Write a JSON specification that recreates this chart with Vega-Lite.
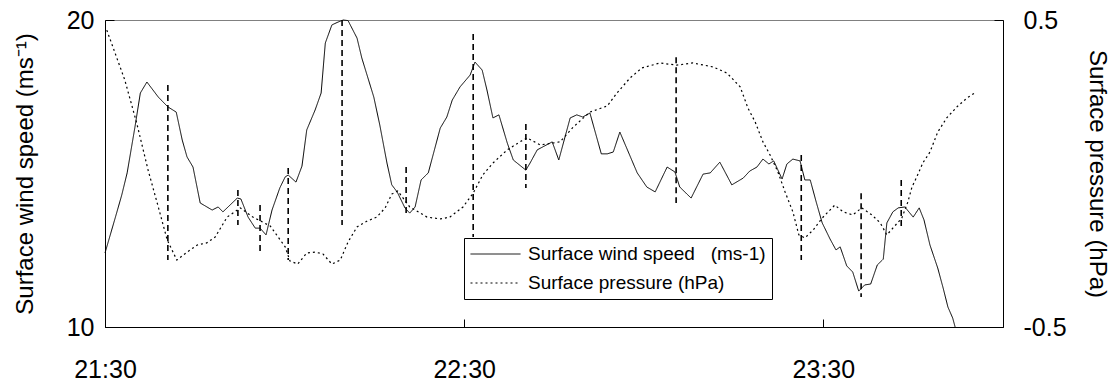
{
  "$schema": "https://vega.github.io/schema/vega-lite/v6.json",
  "width": 898,
  "height": 307,
  "autosize": {"type": "none"},
  "padding": {"left": 105, "top": 20, "right": 114, "bottom": 56},
  "background": "white",
  "config": {
    "view": {"stroke": "#808080", "strokeWidth": 1},
    "axis": {
      "grid": false,
      "domainColor": "black",
      "domainWidth": 1,
      "tickColor": "black",
      "labelFont": "Liberation Sans",
      "titleFont": "Liberation Sans",
      "labelColor": "black",
      "titleColor": "black",
      "titleFontWeight": "normal",
      "labelFontSize": 25,
      "titleFontSize": 24
    }
  },
  "datasets": {
    "wind": [
      {"t": 0, "w": 12.41}, {"t": 1.7, "w": 13.55}, {"t": 2.8, "w": 14.3}, {"t": 3.7, "w": 15.02},
      {"t": 5.0, "w": 16.51}, {"t": 5.9, "w": 17.62}, {"t": 7.0, "w": 17.98}, {"t": 8.9, "w": 17.49},
      {"t": 10.5, "w": 17.17}, {"t": 11.9, "w": 17.0}, {"t": 12.9, "w": 16.09}, {"t": 13.7, "w": 15.54},
      {"t": 14.7, "w": 15.21}, {"t": 15.9, "w": 14.04}, {"t": 17.9, "w": 13.81}, {"t": 18.9, "w": 13.91},
      {"t": 19.7, "w": 13.75}, {"t": 22.1, "w": 14.2}, {"t": 22.7, "w": 14.17}, {"t": 23.9, "w": 13.58},
      {"t": 25.1, "w": 13.22}, {"t": 25.9, "w": 13.22}, {"t": 26.9, "w": 13.0}, {"t": 27.9, "w": 13.81},
      {"t": 29.2, "w": 14.53}, {"t": 30.1, "w": 14.89}, {"t": 30.6, "w": 14.95}, {"t": 31.9, "w": 14.72},
      {"t": 32.9, "w": 15.24}, {"t": 33.7, "w": 16.42}, {"t": 35.1, "w": 17.07}, {"t": 36.1, "w": 17.62},
      {"t": 36.8, "w": 19.25}, {"t": 37.9, "w": 19.84}, {"t": 38.9, "w": 19.93}, {"t": 39.8, "w": 20.0},
      {"t": 40.6, "w": 19.98}, {"t": 42.1, "w": 19.41}, {"t": 42.9, "w": 18.76}, {"t": 44.9, "w": 17.49},
      {"t": 45.9, "w": 16.58}, {"t": 47.1, "w": 15.34}, {"t": 47.9, "w": 14.63}, {"t": 48.8, "w": 14.4},
      {"t": 50.1, "w": 13.88}, {"t": 50.9, "w": 13.71}, {"t": 51.8, "w": 13.91}, {"t": 52.8, "w": 14.79},
      {"t": 54.0, "w": 15.02}, {"t": 56.0, "w": 16.48}, {"t": 57.1, "w": 16.84}, {"t": 58.0, "w": 17.39},
      {"t": 59.3, "w": 17.82}, {"t": 61.0, "w": 18.21}, {"t": 61.8, "w": 18.63}, {"t": 63.0, "w": 18.37},
      {"t": 63.8, "w": 17.72}, {"t": 64.8, "w": 16.81}, {"t": 65.8, "w": 16.91}, {"t": 67.2, "w": 15.99},
      {"t": 68.2, "w": 15.44}, {"t": 70.3, "w": 15.11}, {"t": 71.0, "w": 15.34}, {"t": 72.2, "w": 15.77},
      {"t": 74.7, "w": 16.03}, {"t": 75.8, "w": 15.44}, {"t": 77.7, "w": 16.81}, {"t": 78.8, "w": 16.91},
      {"t": 79.8, "w": 16.84}, {"t": 81.0, "w": 16.97}, {"t": 82.9, "w": 15.64}, {"t": 83.9, "w": 15.64},
      {"t": 84.9, "w": 15.7}, {"t": 86.0, "w": 16.35}, {"t": 88.9, "w": 15.02}, {"t": 90.5, "w": 14.56},
      {"t": 91.9, "w": 14.4}, {"t": 93.9, "w": 15.21}, {"t": 95.2, "w": 15.05}, {"t": 96.0, "w": 14.56},
      {"t": 97.9, "w": 14.2}, {"t": 99.9, "w": 14.98}, {"t": 101.1, "w": 15.02}, {"t": 102.7, "w": 15.37},
      {"t": 104.7, "w": 14.63}, {"t": 106.6, "w": 14.85}, {"t": 107.7, "w": 15.08}, {"t": 108.9, "w": 15.21},
      {"t": 109.9, "w": 15.47}, {"t": 110.9, "w": 15.31}, {"t": 111.7, "w": 15.41}, {"t": 113.1, "w": 14.82},
      {"t": 113.9, "w": 15.31}, {"t": 114.9, "w": 15.47}, {"t": 116.1, "w": 15.41}, {"t": 116.9, "w": 14.79},
      {"t": 117.8, "w": 14.79}, {"t": 118.8, "w": 14.07}, {"t": 119.8, "w": 13.39}, {"t": 121.1, "w": 12.87},
      {"t": 122.1, "w": 12.51}, {"t": 122.8, "w": 12.61}, {"t": 123.9, "w": 11.99}, {"t": 124.9, "w": 11.79},
      {"t": 125.9, "w": 11.17}, {"t": 126.9, "w": 11.37}, {"t": 127.9, "w": 11.4}, {"t": 129.0, "w": 12.02},
      {"t": 130.0, "w": 12.21}, {"t": 130.6, "w": 13.39}, {"t": 131.6, "w": 13.75}, {"t": 132.5, "w": 13.88},
      {"t": 133.6, "w": 13.91}, {"t": 135.0, "w": 13.58}, {"t": 136.0, "w": 13.88}, {"t": 136.8, "w": 13.49},
      {"t": 137.8, "w": 12.67}, {"t": 139.1, "w": 11.92}, {"t": 140.0, "w": 11.27}, {"t": 140.8, "w": 10.65},
      {"t": 141.6, "w": 10.29}, {"t": 142.0, "w": 10.0}
    ],
    "pressure": [
      {"t": 0.3, "p": 0.467}, {"t": 3.3, "p": 0.305}, {"t": 5.3, "p": 0.164}, {"t": 7.2, "p": 0.011},
      {"t": 8.9, "p": -0.109}, {"t": 10.4, "p": -0.217}, {"t": 12.0, "p": -0.282}, {"t": 13.7, "p": -0.256},
      {"t": 15.4, "p": -0.233}, {"t": 17.0, "p": -0.226}, {"t": 18.4, "p": -0.207}, {"t": 20.4, "p": -0.142},
      {"t": 22.6, "p": -0.112}, {"t": 24.7, "p": -0.142}, {"t": 27.6, "p": -0.171}, {"t": 30.1, "p": -0.239},
      {"t": 30.9, "p": -0.285}, {"t": 32.2, "p": -0.295}, {"t": 33.7, "p": -0.259}, {"t": 35.1, "p": -0.256},
      {"t": 36.4, "p": -0.262}, {"t": 37.9, "p": -0.295}, {"t": 39.3, "p": -0.282}, {"t": 40.6, "p": -0.223},
      {"t": 42.1, "p": -0.174}, {"t": 43.8, "p": -0.155}, {"t": 45.4, "p": -0.142}, {"t": 46.8, "p": -0.112},
      {"t": 47.9, "p": -0.067}, {"t": 48.9, "p": -0.057}, {"t": 50.9, "p": -0.109}, {"t": 53.8, "p": -0.142},
      {"t": 56.0, "p": -0.148}, {"t": 57.6, "p": -0.142}, {"t": 59.8, "p": -0.109}, {"t": 61.5, "p": -0.064},
      {"t": 63.1, "p": -0.005}, {"t": 64.8, "p": 0.034}, {"t": 67.2, "p": 0.077}, {"t": 69.3, "p": 0.103},
      {"t": 70.5, "p": 0.116}, {"t": 72.7, "p": 0.093}, {"t": 74.7, "p": 0.099}, {"t": 76.0, "p": 0.103},
      {"t": 78.2, "p": 0.151}, {"t": 81.0, "p": 0.2}, {"t": 83.9, "p": 0.22}, {"t": 85.5, "p": 0.262},
      {"t": 87.7, "p": 0.311}, {"t": 89.7, "p": 0.344}, {"t": 92.7, "p": 0.36}, {"t": 95.5, "p": 0.353},
      {"t": 98.2, "p": 0.36}, {"t": 101.6, "p": 0.347}, {"t": 103.9, "p": 0.327}, {"t": 106.1, "p": 0.282},
      {"t": 107.4, "p": 0.213}, {"t": 108.6, "p": 0.168}, {"t": 109.9, "p": 0.103}, {"t": 111.1, "p": 0.06},
      {"t": 112.4, "p": 0.005}, {"t": 113.6, "p": -0.06}, {"t": 114.9, "p": -0.125}, {"t": 115.9, "p": -0.2},
      {"t": 116.9, "p": -0.21}, {"t": 118.3, "p": -0.184}, {"t": 119.8, "p": -0.145}, {"t": 120.8, "p": -0.125},
      {"t": 121.9, "p": -0.103}, {"t": 123.3, "p": -0.125}, {"t": 124.9, "p": -0.135}, {"t": 126.4, "p": -0.112},
      {"t": 128.1, "p": -0.135}, {"t": 129.5, "p": -0.161}, {"t": 130.6, "p": -0.2}, {"t": 131.6, "p": -0.178},
      {"t": 133.1, "p": -0.145}, {"t": 134.1, "p": -0.093}, {"t": 134.8, "p": -0.044}, {"t": 135.6, "p": -0.011},
      {"t": 136.6, "p": 0.034}, {"t": 137.8, "p": 0.07}, {"t": 139.1, "p": 0.135}, {"t": 140.6, "p": 0.181},
      {"t": 142.3, "p": 0.217}, {"t": 144.0, "p": 0.246}, {"t": 145.5, "p": 0.265}
    ],
    "events": [
      {"t": 10.5, "w": 17.88, "w2": 12.18}, {"t": 22.2, "w": 14.46, "w2": 13.32},
      {"t": 25.9, "w": 13.97, "w2": 12.35}, {"t": 30.6, "w": 15.18, "w2": 12.18},
      {"t": 39.6, "w": 20.0, "w2": 13.32}, {"t": 50.3, "w": 15.21, "w2": 13.58},
      {"t": 61.5, "w": 19.54, "w2": 12.93}, {"t": 70.3, "w": 16.61, "w2": 14.53},
      {"t": 95.4, "w": 18.79, "w2": 14.04}, {"t": 116.3, "w": 15.6, "w2": 12.18},
      {"t": 126.3, "w": 14.36, "w2": 10.98}, {"t": 133.0, "w": 14.79, "w2": 13.22}
    ]
  },
  "encoding": {
    "x": {
      "field": "t",
      "type": "quantitative",
      "scale": {"domain": [0, 150], "nice": false, "zero": false},
      "axis": {
        "values": [0, 60, 120],
        "labelExpr": "datum.value == 0 ? '21:30' : (datum.value == 60 ? '22:30' : '23:30')",
        "tickSize": -8,
        "labelPadding": 38,
        "title": null,
        "labelFlush": false
      }
    }
  },
  "layer": [
    {
      "layer": [
        {
          "data": {"name": "wind"},
          "mark": {"type": "line", "color": "black", "strokeWidth": 1, "interpolate": "linear"},
          "encoding": {
            "y": {
              "field": "w",
              "type": "quantitative",
              "scale": {"domain": [10, 20], "nice": false, "zero": false},
              "axis": {
                "values": [10, 20],
                "tickSize": -9,
                "labelPadding": 20,
                "title": "Surface wind speed (ms⁻¹)",
                "titlePadding": 29
              }
            },
            "strokeDash": {
              "datum": "Surface wind speed \u00a0 (ms-1)",
              "type": "nominal",
              "scale": {
                "domain": ["Surface wind speed \u00a0 (ms-1)", "Surface pressure (hPa)"],
                "range": [[1, 0], [2, 3]]
              },
              "legend": {
                "orient": "none",
                "legendX": 359,
                "legendY": 218,
                "title": null,
                "symbolType": "stroke",
                "symbolSize": 2500,
                "symbolStrokeWidth": 1,
                "symbolStrokeColor": "black",
                "clipHeight": 20,
                "labelFontSize": 19,
                "labelFont": "Liberation Sans",
                "labelColor": "black",
                "labelLimit": 400,
                "labelOffset": 7,
                "strokeColor": "black",
                "fillColor": "white",
                "padding": 6,
                "rowPadding": 9
              }
            }
          }
        },
        {
          "data": {"name": "events"},
          "mark": {"type": "rule", "color": "black", "strokeWidth": 1.6, "strokeDash": [6, 4]},
          "encoding": {
            "y": {"field": "w", "type": "quantitative"},
            "y2": {"field": "w2"}
          }
        }
      ]
    },
    {
      "data": {"name": "pressure"},
      "mark": {"type": "line", "color": "black", "strokeWidth": 1.2, "interpolate": "linear"},
      "encoding": {
        "y": {
          "field": "p",
          "type": "quantitative",
          "scale": {"domain": [-0.5, 0.5], "nice": false, "zero": false},
          "axis": {
            "orient": "right",
            "values": [-0.5, 0.5],
            "labelExpr": "datum.value > 0 ? '0.5' : '-0.5'",
            "tickSize": -9,
            "labelPadding": 29,
            "title": "Surface pressure (hPa)",
            "titlePadding": 18
          }
        },
        "strokeDash": {
          "datum": "Surface pressure (hPa)",
          "type": "nominal",
          "scale": {
            "domain": ["Surface wind speed \u00a0 (ms-1)", "Surface pressure (hPa)"],
            "range": [[1, 0], [2, 3]]
          }
        }
      }
    }
  ],
  "resolve": {"scale": {"y": "independent"}}
}
